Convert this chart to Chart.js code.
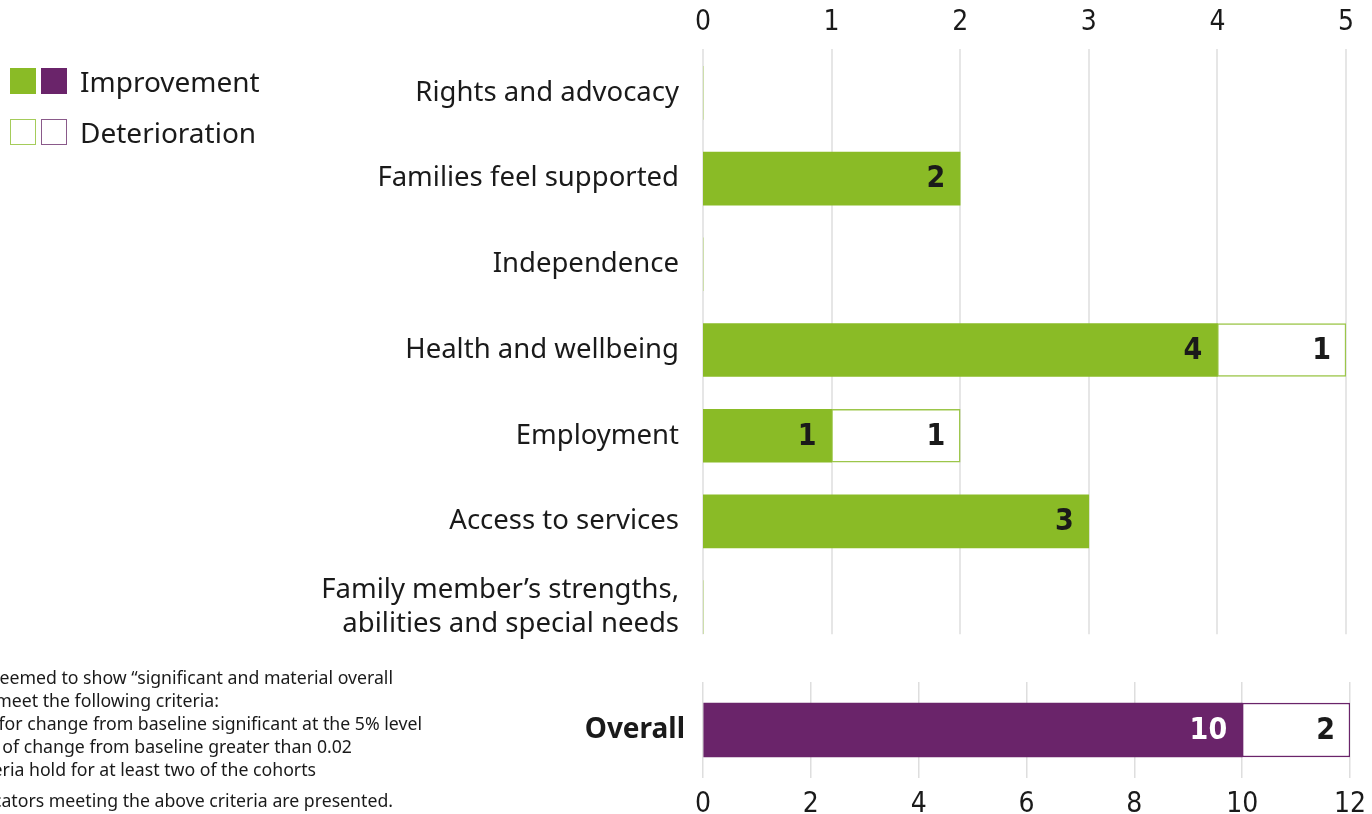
<!DOCTYPE html>
<html>
<head>
<meta charset="utf-8">
<script src="https://cdn.jsdelivr.net/npm/chart.js@4.4.1/dist/chart.umd.min.js"></script>
<style>
  html, body { margin: 0; padding: 0; background: #fff; }
  body { width: 1372px; height: 814px; position: relative; overflow: hidden; font-family: "Noto Sans", sans-serif; color: #1a1a1a; }
  #topWrap { position: absolute; left: 0; top: 0; width: 1372px; height: 660px; }
  #botWrap { position: absolute; left: 0; top: 660px; width: 1372px; height: 154px; }
  .legend { position: absolute; left: 10px; font-size: 28px; line-height: 1; }
  .legend .row { position: absolute; left: 0; display: flex; align-items: center; white-space: nowrap; }
  .sw { width: 26px; height: 26px; box-sizing: border-box; margin-right: 5px; }
  .sw.last { margin-right: 13px; }
  .note { position: absolute; font-size: 17.7px; white-space: nowrap; color: #1a1a1a; }
</style>
</head>
<body>
<div id="topWrap"><canvas id="topChart"></canvas></div>
<div id="botWrap"><canvas id="botChart"></canvas></div>

<div class="legend">
  <div class="row" style="top:67px;">
    <div class="sw" style="background:#8abb26;"></div>
    <div class="sw last" style="background:#6a246a;"></div>
    <span>Improvement</span>
  </div>
  <div class="row" style="top:118px;">
    <div class="sw" style="border:1.5px solid #a5cc5a;"></div>
    <div class="sw last" style="border:1.5px solid #8a5a8a;"></div>
    <span>Deterioration</span>
  </div>
</div>

<div class="note" style="right:979px; top:665px;">Indicators were deemed to show “significant and material overall</div>
<div class="note" style="right:1153px; top:688px;">change” if they meet the following criteria:</div>
<div class="note" style="right:950px; top:711px;">• p-value for change from baseline significant at the 5% level</div>
<div class="note" style="right:1020px; top:734px;">• magnitude of change from baseline greater than 0.02</div>
<div class="note" style="right:1056px; top:757px;">• both criteria hold for at least two of the cohorts</div>
<div class="note" style="right:979px; top:788px;">Only indicators meeting the above criteria are presented.</div>

<script>
// Outcome domains and counts of indicators
const domains = [
  "Rights and advocacy",
  "Families feel supported",
  "Independence",
  "Health and wellbeing",
  "Employment",
  "Access to services",
  ["Family member’s strengths,", "abilities and special needs"]
];
const improvement = [0, 2, 0, 4, 1, 3, 0];
const deterioration = [0, 0, 0, 1, 1, 0, 0];

const overallLabel = ["Overall"];
const overallImprovement = [10];
const overallDeterioration = [2];

const topTicks = [0, 1, 2, 3, 4, 5];
const bottomTicks = [0, 2, 4, 6, 8, 10, 12];

const GREEN = "#8abb26";
const GREEN_LINE = "#9cc64a";
const PURPLE = "#6a246a";
const GRID = "#dedede";
const TEXT = "#1a1a1a";
const NUM_FONT = "'DejaVu Sans Condensed', 'Liberation Sans Narrow', 'DejaVu Sans', sans-serif";
const LABEL_FONT = "'Noto Sans', sans-serif";

// Writes each non-zero value just inside the end of its bar
const valueLabels = {
  id: "valueLabels",
  afterDatasetsDraw(chart) {
    const ctx = chart.ctx;
    ctx.save();
    ctx.font = "bold 30px " + NUM_FONT;
    ctx.textAlign = "right";
    ctx.textBaseline = "middle";
    chart.data.datasets.forEach((ds, di) => {
      const meta = chart.getDatasetMeta(di);
      meta.data.forEach((bar, i) => {
        const v = ds.data[i];
        if (!v) return;
        ctx.fillStyle = ds.labelColor || TEXT;
        ctx.fillText(String(v), bar.x - 15, bar.y + 1);
      });
    });
    ctx.restore();
  }
};

// Vertical value lines for the domain panel, stopping just below the last row
const domainGrid = {
  id: "domainGrid",
  beforeDatasetsDraw(chart) {
    const xs = chart.scales.x, ys = chart.scales.y;
    const ctx = chart.ctx;
    const top = chart.chartArea.top - 1;
    const bottom = ys.getPixelForValue(domains.length - 1) + 27;
    ctx.save();
    ctx.strokeStyle = GRID;
    ctx.lineWidth = 1.5;
    xs.ticks.forEach(t => {
      const x = Math.round(xs.getPixelForValue(t.value));
      ctx.beginPath();
      ctx.moveTo(x, top);
      ctx.lineTo(x, bottom);
      ctx.stroke();
    });
    ctx.restore();
  }
};

// Outline width only for bars that have a length
const outline = (w) => (c) => (c.raw ? w : 0);

function xScale(position, ticks, maxVal, pad, height, showGrid) {
  return {
    type: "linear",
    position: position,
    stacked: true,
    min: 0,
    max: maxVal,
    afterBuildTicks(scale) { scale.ticks = ticks.map(v => ({ value: v })); },
    afterFit(scale) {
      scale.height = height;
      scale.paddingLeft = 0;
      scale.paddingRight = 0;
    },
    grid: { display: showGrid, color: GRID, lineWidth: 1.5, drawTicks: false },
    border: { display: false },
    ticks: {
      padding: pad,
      color: TEXT,
      font: { family: NUM_FONT, size: 28 },
      maxRotation: 0,
      autoSkip: false
    }
  };
}

function yScale(labelFont, pad) {
  return {
    type: "category",
    stacked: true,
    afterFit(scale) {
      scale.width = 703;
      scale.paddingTop = 0;
      scale.paddingBottom = 0;
    },
    grid: { display: false, drawTicks: false },
    border: { display: false },
    ticks: {
      padding: pad,
      color: TEXT,
      font: labelFont,
      autoSkip: false
    }
  };
}

new Chart(document.getElementById("topChart"), {
  type: "bar",
  data: {
    labels: domains,
    datasets: [
      {
        label: "Improvement",
        data: improvement,
        backgroundColor: GREEN,
        borderWidth: 0,
        barThickness: 53
      },
      {
        label: "Deterioration",
        data: deterioration,
        backgroundColor: "#ffffff",
        borderColor: GREEN_LINE,
        borderWidth: outline(1.5),
        borderSkipped: false,
        barThickness: 53
      }
    ]
  },
  options: {
    indexAxis: "y",
    responsive: true,
    maintainAspectRatio: false,
    animation: false,
    layout: { padding: { left: 0, right: 26, top: 0, bottom: 10 } },
    plugins: { legend: { display: false }, tooltip: { enabled: false } },
    scales: {
      x: xScale("top", topTicks, 5, 10, 50, false),
      y: yScale({ family: LABEL_FONT, size: 27.5, lineHeight: 1.24 }, 24)
    }
  },
  plugins: [domainGrid, valueLabels]
});

new Chart(document.getElementById("botChart"), {
  type: "bar",
  data: {
    labels: overallLabel,
    datasets: [
      {
        label: "Improvement",
        data: overallImprovement,
        backgroundColor: PURPLE,
        borderWidth: 0,
        barThickness: 54,
        labelColor: "#ffffff"
      },
      {
        label: "Deterioration",
        data: overallDeterioration,
        backgroundColor: "#ffffff",
        borderColor: PURPLE,
        borderWidth: outline(1.5),
        borderSkipped: false,
        barThickness: 54
      }
    ]
  },
  options: {
    indexAxis: "y",
    responsive: true,
    maintainAspectRatio: false,
    animation: false,
    layout: { padding: { left: 0, right: 22, top: 22, bottom: 0 } },
    plugins: { legend: { display: false }, tooltip: { enabled: false } },
    scales: {
      x: xScale("bottom", bottomTicks, 12, 10, 36, true),
      y: yScale({ family: LABEL_FONT, size: 28, weight: "bold" }, 18)
    }
  },
  plugins: [valueLabels]
});
</script>
</body>
</html>
